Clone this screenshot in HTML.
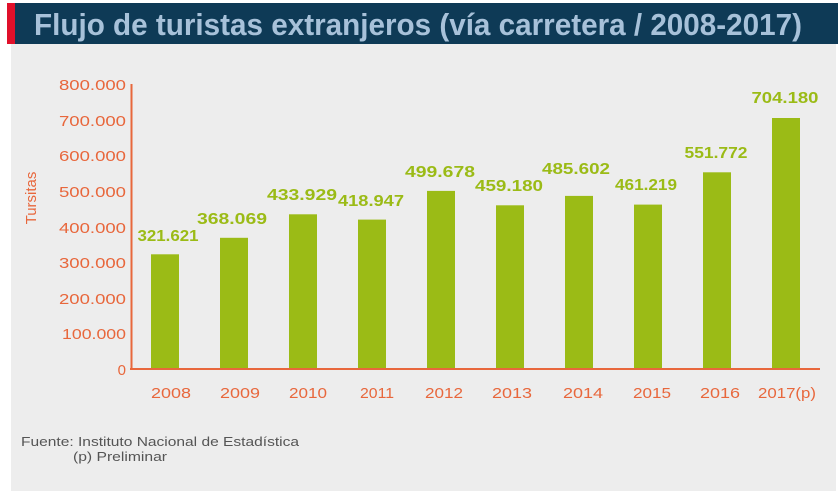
<!DOCTYPE html>
<html><head><meta charset="utf-8"><style>
html,body{margin:0;padding:0;background:#fff;}
svg{display:block;}
</style></head><body>
<svg width="840" height="492" viewBox="0 0 840 492" xmlns="http://www.w3.org/2000/svg" font-family="Liberation Sans, sans-serif">
<rect x="0" y="0" width="840" height="492" fill="#ffffff"/>
<rect x="11" y="43" width="825" height="448" fill="#ededed"/>
<rect x="7" y="3" width="8" height="41" fill="#e0102a"/>
<rect x="15" y="3" width="823" height="41" fill="#0e3a56"/>
<text x="34" y="35" font-family="Liberation Sans Narrow, Liberation Sans, sans-serif" font-weight="bold" font-size="31" fill="#a7c1d9" textLength="768" lengthAdjust="spacingAndGlyphs">Flujo de turistas extranjeros (vía carretera / 2008-2017)</text>
<g fill="#e8673c" font-size="15" text-anchor="end">
<text x="126" y="375">0</text>
<text x="126" y="339" textLength="64" lengthAdjust="spacingAndGlyphs">100.000</text>
<text x="126" y="304" textLength="67" lengthAdjust="spacingAndGlyphs">200.000</text>
<text x="126" y="268" textLength="67" lengthAdjust="spacingAndGlyphs">300.000</text>
<text x="126" y="233" textLength="67" lengthAdjust="spacingAndGlyphs">400.000</text>
<text x="126" y="197" textLength="67" lengthAdjust="spacingAndGlyphs">500.000</text>
<text x="126" y="161" textLength="67" lengthAdjust="spacingAndGlyphs">600.000</text>
<text x="126" y="126" textLength="67" lengthAdjust="spacingAndGlyphs">700.000</text>
<text x="126" y="90" textLength="67" lengthAdjust="spacingAndGlyphs">800.000</text>
</g>
<text transform="translate(36,198) rotate(-90)" fill="#e8673c" font-size="15" text-anchor="middle">Tursitas</text>
<g fill="#9bbb16">
<rect x="151" y="254.3" width="28" height="114.7"/>
<rect x="220" y="237.8" width="28" height="131.2"/>
<rect x="289" y="214.3" width="28" height="154.7"/>
<rect x="358" y="219.6" width="28" height="149.4"/>
<rect x="427" y="190.9" width="28" height="178.1"/>
<rect x="496" y="205.3" width="28" height="163.7"/>
<rect x="565" y="195.9" width="28" height="173.1"/>
<rect x="634" y="204.6" width="28" height="164.4"/>
<rect x="703" y="172.3" width="28" height="196.7"/>
<rect x="772" y="118" width="28" height="251"/>
</g>
<g fill="#9bbb16" font-size="16" font-weight="bold" text-anchor="middle">
<text x="168" y="241" textLength="61" lengthAdjust="spacingAndGlyphs">321.621</text>
<text x="232" y="224" textLength="70" lengthAdjust="spacingAndGlyphs">368.069</text>
<text x="302" y="200" textLength="70" lengthAdjust="spacingAndGlyphs">433.929</text>
<text x="371" y="206" textLength="66" lengthAdjust="spacingAndGlyphs">418.947</text>
<text x="440" y="177" textLength="70" lengthAdjust="spacingAndGlyphs">499.678</text>
<text x="509" y="191" textLength="68" lengthAdjust="spacingAndGlyphs">459.180</text>
<text x="576" y="174" textLength="68" lengthAdjust="spacingAndGlyphs">485.602</text>
<text x="646" y="190" textLength="62" lengthAdjust="spacingAndGlyphs">461.219</text>
<text x="716" y="158" textLength="63" lengthAdjust="spacingAndGlyphs">551.772</text>
<text x="785" y="103" textLength="67" lengthAdjust="spacingAndGlyphs">704.180</text>
</g>
<line x1="131.5" y1="84" x2="131.5" y2="370" stroke="#e8673c" stroke-width="2"/>
<line x1="130" y1="369" x2="820" y2="369" stroke="#e8673c" stroke-width="2"/>
<g fill="#e8673c" font-size="15" text-anchor="middle">
<text x="171" y="398" textLength="40" lengthAdjust="spacingAndGlyphs">2008</text>
<text x="240" y="398" textLength="40" lengthAdjust="spacingAndGlyphs">2009</text>
<text x="308" y="398" textLength="38" lengthAdjust="spacingAndGlyphs">2010</text>
<text x="377" y="398" textLength="34" lengthAdjust="spacingAndGlyphs">2011</text>
<text x="444" y="398" textLength="38" lengthAdjust="spacingAndGlyphs">2012</text>
<text x="512" y="398" textLength="40" lengthAdjust="spacingAndGlyphs">2013</text>
<text x="583" y="398" textLength="40" lengthAdjust="spacingAndGlyphs">2014</text>
<text x="652" y="398" textLength="38" lengthAdjust="spacingAndGlyphs">2015</text>
<text x="720" y="398" textLength="40" lengthAdjust="spacingAndGlyphs">2016</text>
<text x="787" y="398" textLength="58" lengthAdjust="spacingAndGlyphs">2017(p)</text>
</g>
<text x="21" y="446" fill="#555" font-size="13" textLength="278" lengthAdjust="spacingAndGlyphs">Fuente: Instituto Nacional de Estadística</text>
<text x="73" y="461" fill="#555" font-size="13" textLength="94" lengthAdjust="spacingAndGlyphs">(p) Preliminar</text>
</svg>
</body></html>
